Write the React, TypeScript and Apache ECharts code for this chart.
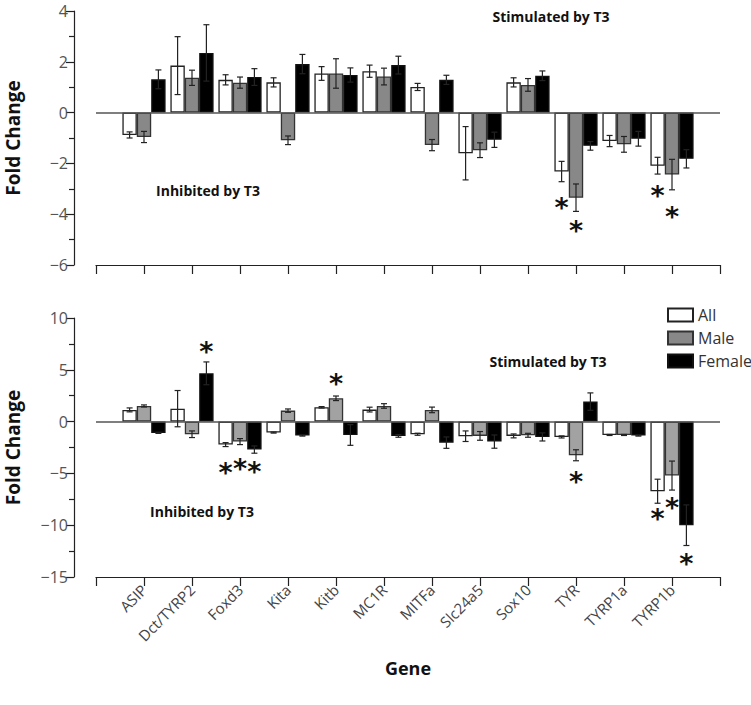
import React, { useEffect, useRef } from "react";
import * as echarts from "echarts";

const genes = ["ASIP", "Dct/TYRP2", "Foxd3", "Kita", "Kitb", "MC1R", "MITFa", "Slc24a5", "Sox10", "TYR", "TYRP1a", "TYRP1b"];
const groups = ["All", "Male", "Female"];

// Top panel (fold change)
const topAll = [-0.88, 1.85, 1.29, 1.19, 1.54, 1.63, 1.01, -1.6, 1.19, -2.32, -1.12, -2.09];
const topAllErr = [0.12, 1.14, 0.2, 0.18, 0.27, 0.24, 0.14, 1.05, 0.18, 0.4, 0.22, 0.33];
const topMale = [-0.96, 1.37, 1.18, -1.09, 1.54, 1.42, -1.28, -1.48, 1.09, -3.35, -1.25, -2.44];
const topMaleErr = [0.22, 0.3, 0.22, 0.17, 0.58, 0.33, 0.22, 0.29, 0.25, 0.54, 0.31, 0.6];
const topFemale = [1.31, 2.35, 1.4, 1.91, 1.48, 1.87, 1.29, -1.07, 1.45, -1.31, -1.03, -1.82];
const topFemaleErr = [0.37, 1.11, 0.33, 0.38, 0.28, 0.35, 0.18, 0.3, 0.19, 0.17, 0.29, 0.36];

// Bottom panel (fold change)
const botAll = [1.13, 1.25, -2.22, -1.06, 1.38, 1.16, -1.22, -1.41, -1.38, -1.48, -1.29, -6.72];
const botAllErr = [0.19, 1.75, 0.19, 0.05, 0.07, 0.23, 0.1, 0.51, 0.19, 0.1, 0.05, 1.16];
const botMale = [1.51, -1.22, -1.93, 1.06, 2.25, 1.51, 1.13, -1.38, -1.32, -3.25, -1.29, -5.21];
const botMaleErr = [0.1, 0.32, 0.29, 0.16, 0.22, 0.22, 0.27, 0.42, 0.19, 0.53, 0.05, 1.4];
const botFemale = [-1.09, 4.66, -2.7, -1.35, -1.29, -1.38, -2.03, -1.93, -1.48, 1.93, -1.35, -10.0];
const botFemaleErr = [0.05, 1.1, 0.35, 0.05, 1.0, 0.13, 0.55, 0.64, 0.39, 0.84, 0.05, 1.96];

// Significance markers: [gene, group index, y position]
const topStars: [string, number, number][] = [
  ["TYR", 0, -3.49],
  ["TYR", 1, -4.41],
  ["TYRP1b", 0, -3.02],
  ["TYRP1b", 1, -3.85],
];
const botStars: [string, number, number][] = [
  ["Dct/TYRP2", 2, 7.39],
  ["Foxd3", 0, -4.38],
  ["Foxd3", 1, -3.96],
  ["Foxd3", 2, -4.28],
  ["Kitb", 1, 4.25],
  ["TYR", 1, -5.25],
  ["TYRP1b", 0, -8.79],
  ["TYRP1b", 1, -7.76],
  ["TYRP1b", 2, -13.13],
];

const topTicks = { min: -6, max: 4, interval: 2 };
const botTicks = { min: -15, max: 10, interval: 5 };

const axisCats = [" ", ...genes, "  "];
const FONT = "Open Sans";

export default function App() {
  const ref = useRef<HTMLDivElement>(null);
  useEffect(() => {
    if (!ref.current) return;
    const chart = echarts.init(ref.current, undefined, { renderer: "svg" });
    const idx = (g: string) => genes.indexOf(g) + 1;
    const BAR_FRAC = 0.3;

    const barSeries = (name: string, vals: number[], gi: number, color: string, border: string) => ({
      type: "bar",
      name,
      xAxisIndex: gi,
      yAxisIndex: gi,
      barWidth: "30%",
      barGap: "0%",
      itemStyle: { color, borderColor: border, borderWidth: 1.3 },
      data: vals.map((v, i) => [i + 1, v]),
      z: 2,
    });

    const errSeries = (gi: number, sets: [number[], number[]][]) => {
      const data: number[][] = [];
      sets.forEach(([vals, errs], s) => vals.forEach((v, i) => data.push([i + 1, v, errs[i], s])));
      return {
        type: "custom",
        xAxisIndex: gi,
        yAxisIndex: gi,
        silent: true,
        z: 5,
        data,
        renderItem: (params: any, api: any) => {
          const band = api.size([1, 0])[0];
          const bw = band * BAR_FRAC;
          const c = api.coord([api.value(0), api.value(1)]);
          const x = c[0] + (api.value(3) - 1) * bw;
          const hi = api.coord([api.value(0), api.value(1) + api.value(2)])[1];
          const lo = api.coord([api.value(0), api.value(1) - api.value(2)])[1];
          const cap = 3;
          const st = { stroke: "#222", lineWidth: 1.2 };
          return {
            type: "group",
            children: [
              { type: "line", shape: { x1: x, y1: hi, x2: x, y2: lo }, style: st },
              { type: "line", shape: { x1: x - cap, y1: hi, x2: x + cap, y2: hi }, style: st },
              { type: "line", shape: { x1: x - cap, y1: lo, x2: x + cap, y2: lo }, style: st },
            ],
          };
        },
      };
    };

    const starSeries = (gi: number, stars: [string, number, number][]) => ({
      type: "custom",
      xAxisIndex: gi,
      yAxisIndex: gi,
      silent: true,
      z: 6,
      data: stars.map(([g, s, y]) => [idx(g), y, s]),
      renderItem: (params: any, api: any) => {
        const band = api.size([1, 0])[0];
        const bw = band * BAR_FRAC;
        const c = api.coord([api.value(0), api.value(1)]);
        const x = c[0] + (api.value(2) - 1) * bw;
        return {
          type: "text",
          x,
          y: c[1] + 6,
          style: {
            text: "*",
            fill: "#111",
            font: "bold 27px 'DejaVu Sans'",
            align: "center",
            verticalAlign: "middle",
          },
        };
      },
    });

    const yAxis = (gi: number, t: { min: number; max: number; interval: number }) => ({
      type: "value",
      gridIndex: gi,
      min: t.min,
      max: t.max,
      interval: t.interval,
      offset: 22,
      name: "Fold Change",
      nameLocation: "middle",
      nameGap: 52,
      nameTextStyle: { fontFamily: FONT, fontWeight: "bold", fontSize: 19, color: "#111" },
      axisLine: { show: true, lineStyle: { color: "#222", width: 1.2 } },
      axisTick: { show: true, length: 8, lineStyle: { color: "#222", width: 1.2 } },
      minorTick: { show: true, splitNumber: 2, length: 5, lineStyle: { color: "#222", width: 1.2 } },
      splitLine: { show: false },
      axisLabel: {
        fontFamily: FONT,
        fontSize: 16,
        color: "#555",
        margin: 6,
        formatter: (v: number) => String(v).replace("-", "\u2212"),
      },
    });

    const xAxis = (gi: number, labels: boolean) => ({
      type: "category",
      gridIndex: gi,
      data: axisCats,
      boundaryGap: false,
      axisLine: { show: true, onZero: false, lineStyle: { color: "#222", width: 1.2 } },
      axisTick: { show: true, inside: false, length: 9, interval: 0, lineStyle: { color: "#222", width: 1.2 } },
      axisLabel: labels
        ? { show: true, interval: 0, rotate: 45, fontFamily: FONT, fontSize: 15, color: "#444", margin: 10 }
        : { show: false },
      name: labels ? "Gene" : "",
      nameLocation: "middle",
      nameGap: 82,
      nameTextStyle: { fontFamily: FONT, fontWeight: "bold", fontSize: 18, color: "#111" },
    });

    const zeroLine = {
      silent: true,
      symbol: "none",
      label: { show: false },
      lineStyle: { color: "#555", type: "solid", width: 1.5 },
      data: [{ yAxis: 0 }],
    };

    const top0 = barSeries("All", topAll, 0, "#ffffff", "#222");
    (top0 as any).markLine = zeroLine;
    const bot0 = barSeries("All", botAll, 1, "#ffffff", "#222");
    (bot0 as any).markLine = zeroLine;

    const annot = (text: string, x: number, y: number) => ({
      type: "text",
      x,
      y,
      style: { text, font: `bold 14px '${FONT}'`, fill: "#111", align: "center", verticalAlign: "middle" },
    });

    chart.setOption({
      animation: false,
      backgroundColor: "#fff",
      grid: [
        { left: 96, right: 31, top: 11, height: 254, outerBoundsMode: "none", containLabel: false },
        { left: 96, right: 31, top: 318, height: 259, outerBoundsMode: "none", containLabel: false },
      ],
      legend: {
        data: groups.map((g) => ({ name: g, icon: "rect" })),
        orient: "vertical",
        left: 662,
        top: 302,
        itemWidth: 25,
        itemHeight: 13,
        itemGap: 7,
        textStyle: { fontFamily: FONT, fontSize: 16, color: "#333" },
        selectedMode: false,
      },
      xAxis: [xAxis(0, false), xAxis(1, true)],
      yAxis: [yAxis(0, topTicks), yAxis(1, botTicks)],
      graphic: [
        annot("Stimulated by T3", 551, 16),
        annot("Inhibited by T3", 208, 190),
        annot("Stimulated by T3", 548, 361),
        annot("Inhibited by T3", 202, 511),
      ],
      series: [
        top0,
        barSeries("Male", topMale, 0, "#888888", "#333"),
        barSeries("Female", topFemale, 0, "#000000", "#111"),
        bot0,
        barSeries("Male", botMale, 1, "#a2a2a2", "#333"),
        barSeries("Female", botFemale, 1, "#000000", "#111"),
        errSeries(0, [[topAll, topAllErr], [topMale, topMaleErr], [topFemale, topFemaleErr]]),
        errSeries(1, [[botAll, botAllErr], [botMale, botMaleErr], [botFemale, botFemaleErr]]),
        starSeries(0, topStars),
        starSeries(1, botStars),
      ],
    });
    return () => chart.dispose();
  }, []);
  return <div ref={ref} style={{ position: "fixed", left: 0, top: 0, width: 751, height: 705 }} />;
}
